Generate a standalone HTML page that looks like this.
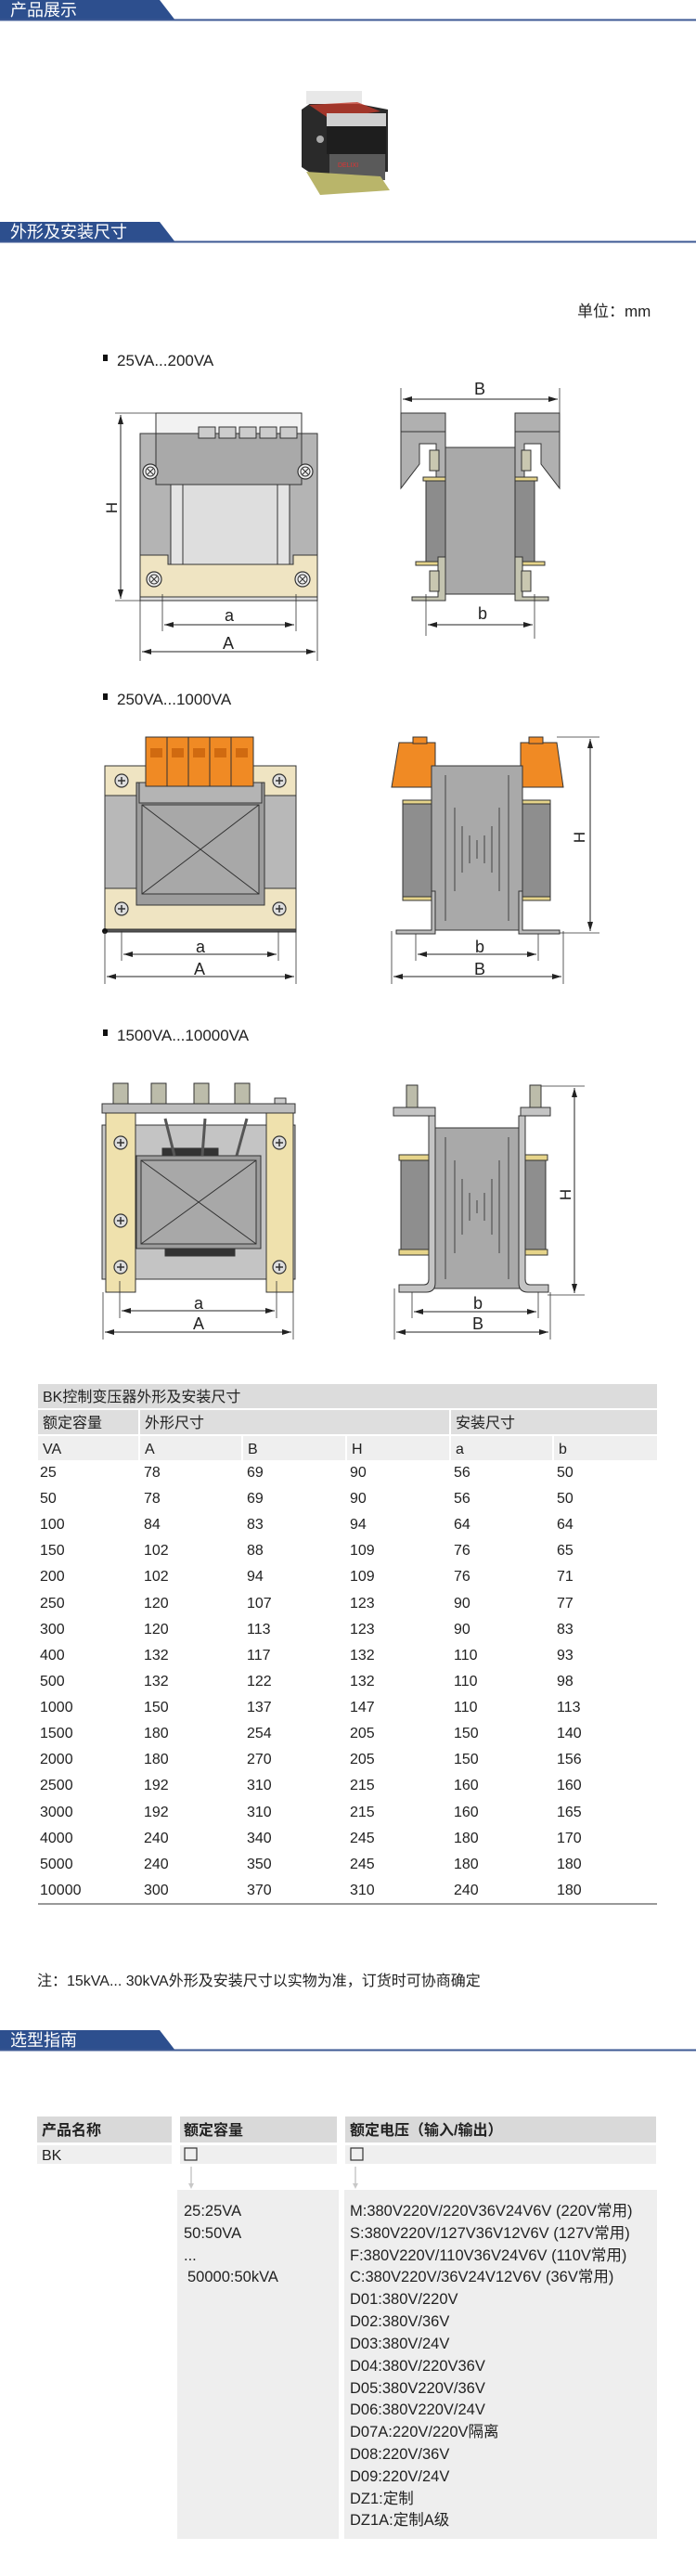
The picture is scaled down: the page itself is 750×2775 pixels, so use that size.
<!DOCTYPE html>
<html><head><meta charset="utf-8">
<style>
html,body{margin:0;padding:0;background:#fff;}
svg{display:block;}
text{font-family:"Liberation Sans","Noto Sans CJK SC",sans-serif;}
</style></head><body>
<svg width="750" height="2775" viewBox="0 0 750 2775" xmlns="http://www.w3.org/2000/svg">
<defs>
<marker id="ar" viewBox="0 0 10 6" refX="10" refY="3" markerWidth="10" markerHeight="6" orient="auto-start-reverse" markerUnits="userSpaceOnUse">
<path d="M0,0 L10,3 L0,6 z" fill="#222"/></marker>
<g id="scr"><circle r="8" fill="#eee" stroke="#333" stroke-width="1.2"/><circle r="5" fill="none" stroke="#333"/><path d="M-3,-3L3,3M-3,3L3,-3" stroke="#333"/></g>
<g id="scp"><circle r="7" fill="#ddd" stroke="#333" stroke-width="1.2"/><path d="M-4,0H4M0,-4V4" stroke="#333" stroke-width="1.5"/></g>
</defs>

<!-- Header 1 -->
<polygon points="0,0 172,0 189,22 0,22" fill="#2d4f8e"/>
<line x1="0" y1="21.5" x2="750" y2="21.5" stroke="#3d5994" stroke-width="2"/>
<text x="11" y="17" font-size="18" fill="#fff">产品展示</text>

<!-- product photo -->
<g>
<polygon points="325,118 345,104 418,118 418,185 340,190 325,180" fill="#2a2a2a"/>
<rect x="330" y="98" width="60" height="14" fill="#e8e8e8"/>
<polygon points="333,113 385,110 410,120 355,128" fill="#c0392b" opacity="0.8"/>
<rect x="352" y="122" width="64" height="14" fill="#cfcfcf"/>
<rect x="352" y="136" width="64" height="30" fill="#1e1e1e"/>
<rect x="355" y="166" width="60" height="28" fill="#5a5a5a"/>
<text x="364" y="180" font-size="7" fill="#d33">DELIXI</text>
<polygon points="330,185 410,190 420,205 345,210" fill="#b9b56a"/>
<circle cx="345" cy="150" r="4" fill="#aaa"/>
</g>

<!-- Header 2 -->
<polygon points="0,239 172,239 189,261 0,261" fill="#2d4f8e"/>
<line x1="0" y1="260.5" x2="750" y2="260.5" stroke="#3d5994" stroke-width="2"/>
<text x="11" y="256" font-size="18" fill="#fff">外形及安装尺寸</text>

<text x="622" y="341" font-size="17" fill="#222">单位：mm</text>

<g fill="#111">
<rect x="111" y="382" width="5" height="7"/>
<rect x="111" y="747" width="5" height="7"/>
<rect x="111" y="1109" width="5" height="7"/>
</g>
<text x="126" y="394" font-size="17" fill="#222">25VA...200VA</text>
<text x="126" y="759" font-size="17" fill="#222">250VA...1000VA</text>
<text x="126" y="1121" font-size="17" fill="#222">1500VA...10000VA</text>

<!-- Diagram 1 left -->
<g stroke="#333" stroke-width="1">
<rect x="151" y="467" width="191" height="180" fill="#b4b4b4"/>
<rect x="168" y="445" width="157" height="22" fill="#f2f2f2"/>
<rect x="168" y="467" width="157" height="55" fill="#a9a9a9"/>
<rect x="214" y="460" width="18" height="12" fill="#ccc"/><rect x="236" y="460" width="18" height="12" fill="#ccc"/><rect x="258" y="460" width="18" height="12" fill="#ccc"/><rect x="280" y="460" width="18" height="12" fill="#ccc"/><rect x="302" y="460" width="18" height="12" fill="#ccc"/>
<rect x="184" y="522" width="128" height="91" fill="#e4e4e4"/>
<rect x="197" y="522" width="102" height="91" fill="#dedede"/>
<path d="M151,598 H181 V608 H316 V598 H342 V643 H151 Z" fill="#efe4c2"/>
<rect x="151" y="643" width="191" height="4" fill="#ddd"/>
</g>
<use href="#scr" x="166" y="624"/><use href="#scr" x="326" y="624"/>
<use href="#scr" x="162" y="508"/><use href="#scr" x="329" y="508"/>
<g stroke="#333" stroke-width="0.8" fill="none">
<line x1="124" y1="445" x2="168" y2="445"/><line x1="124" y1="647" x2="151" y2="647"/>
<line x1="175" y1="640" x2="175" y2="680"/><line x1="319" y1="640" x2="319" y2="680"/>
<line x1="151" y1="647" x2="151" y2="712"/><line x1="342" y1="647" x2="342" y2="712"/>
</g>
<g stroke="#222" stroke-width="1" marker-start="url(#ar)" marker-end="url(#ar)">
<line x1="130" y1="447" x2="130" y2="645"/>
<line x1="177" y1="673" x2="317" y2="673"/>
<line x1="153" y1="702" x2="340" y2="702"/>
<line x1="434" y1="430" x2="601" y2="430"/>
<line x1="461" y1="673" x2="574" y2="673"/>
</g>
<text x="120" y="547" font-size="17" fill="#222" text-anchor="middle" transform="rotate(-90 120 547)" dy="6">H</text>
<text x="247" y="669" font-size="18" fill="#222" text-anchor="middle">a</text>
<text x="246" y="699" font-size="18" fill="#222" text-anchor="middle">A</text>

<!-- Diagram 1 right -->
<g stroke="#333" stroke-width="1">
<rect x="432" y="445" width="48" height="20" fill="#b0b0b0"/>
<rect x="555" y="445" width="48" height="20" fill="#b0b0b0"/>
<path d="M432,465 H480 V526 H470 V478 H452 V500 L432,526 Z" fill="#b0b0b0"/>
<path d="M603,465 H555 V526 H565 V478 H583 V500 L603,526 Z" fill="#b0b0b0"/>
<rect x="459" y="518" width="21" height="87" fill="#8c8c8c"/>
<rect x="555" y="518" width="21" height="87" fill="#8c8c8c"/>
<rect x="480" y="482" width="75" height="158" fill="#a9a9a9"/>
<rect x="456" y="514" width="24" height="4" fill="#e6d48a"/><rect x="555" y="514" width="24" height="4" fill="#e6d48a"/>
<rect x="448" y="605" width="32" height="4" fill="#e6d48a"/><rect x="555" y="605" width="32" height="4" fill="#e6d48a"/>
<path d="M444,643 H472 V600 H480 V647 H444 Z" fill="#c4c4b0"/>
<path d="M591,643 H563 V600 H555 V647 H591 Z" fill="#c4c4b0"/>
<rect x="463" y="485" width="10" height="22" fill="#c9c7b0"/><rect x="562" y="485" width="10" height="22" fill="#c9c7b0"/>
<rect x="463" y="615" width="10" height="22" fill="#c9c7b0"/><rect x="562" y="615" width="10" height="22" fill="#c9c7b0"/>
</g>
<g stroke="#333" stroke-width="0.8"><line x1="432" y1="418" x2="432" y2="445"/><line x1="603" y1="418" x2="603" y2="445"/><line x1="459" y1="640" x2="459" y2="685"/><line x1="576" y1="640" x2="576" y2="688"/></g>
<text x="517" y="425" font-size="18" fill="#222" text-anchor="middle">B</text>
<text x="520" y="667" font-size="18" fill="#222" text-anchor="middle">b</text>

<!-- Diagram 2 left -->
<g stroke="#333" stroke-width="1">
<rect x="113" y="825" width="206" height="178" fill="#efe4c2"/>
<rect x="113" y="857" width="206" height="100" fill="#b8b8b8"/>
<rect x="147" y="843" width="138" height="132" fill="#9c9c9c"/>
<rect x="150" y="843" width="132" height="22" fill="#b4b4b4"/>
<rect x="153" y="867" width="126" height="96" fill="#a8a8a8"/>
<path d="M153,867 L279,963 M279,867 L153,963" fill="none"/>
<rect x="157" y="794" width="23" height="53" fill="#f08a24"/><rect x="180" y="794" width="23" height="53" fill="#f08a24"/><rect x="203" y="794" width="23" height="53" fill="#f08a24"/><rect x="226" y="794" width="23" height="53" fill="#f08a24"/><rect x="249" y="794" width="24" height="53" fill="#f08a24"/>
<rect x="113" y="1001" width="206" height="3" fill="#555"/>
</g>
<g fill="#d06a10"><rect x="162" y="806" width="13" height="10"/><rect x="185" y="806" width="13" height="10"/><rect x="208" y="806" width="13" height="10"/><rect x="231" y="806" width="13" height="10"/><rect x="254" y="806" width="13" height="10"/></g>
<use href="#scp" x="131" y="841"/><use href="#scp" x="301" y="841"/><use href="#scp" x="131" y="979"/><use href="#scp" x="301" y="979"/>
<circle cx="113" cy="1003" r="3" fill="#111"/>
<g stroke="#333" stroke-width="0.8"><line x1="113" y1="1003" x2="113" y2="1060"/><line x1="319" y1="1003" x2="319" y2="1060"/><line x1="131" y1="1003" x2="131" y2="1035"/><line x1="300" y1="1003" x2="300" y2="1035"/>
<line x1="422" y1="1003" x2="422" y2="1060"/><line x1="607" y1="1003" x2="607" y2="1060"/><line x1="448" y1="1003" x2="448" y2="1035"/><line x1="580" y1="1003" x2="580" y2="1035"/>
<line x1="600" y1="794" x2="646" y2="794"/><line x1="603" y1="1005" x2="646" y2="1005"/></g>
<g stroke="#222" stroke-width="1" marker-start="url(#ar)" marker-end="url(#ar)">
<line x1="133" y1="1028" x2="298" y2="1028"/>
<line x1="115" y1="1052" x2="317" y2="1052"/>
<line x1="450" y1="1028" x2="578" y2="1028"/>
<line x1="424" y1="1052" x2="605" y2="1052"/>
<line x1="636" y1="796" x2="636" y2="1003"/>
</g>
<text x="216" y="1026" font-size="18" fill="#222" text-anchor="middle">a</text>
<text x="215" y="1050" font-size="18" fill="#222" text-anchor="middle">A</text>
<text x="517" y="1026" font-size="18" fill="#222" text-anchor="middle">b</text>
<text x="517" y="1050" font-size="18" fill="#222" text-anchor="middle">B</text>
<text x="624" y="902" font-size="17" fill="#222" text-anchor="middle" transform="rotate(-90 624 902)" dy="6">H</text>

<!-- Diagram 2 right -->
<g stroke="#333" stroke-width="1">
<polygon points="430,800 469,800 469,848 422,848" fill="#f08a24"/>
<polygon points="561,800 600,800 607,848 561,848" fill="#f08a24"/>
<rect x="445" y="794" width="15" height="7" fill="#f08a24"/><rect x="570" y="794" width="15" height="7" fill="#f08a24"/>
<rect x="434" y="865" width="31" height="102" fill="#8e8e8e"/>
<rect x="563" y="865" width="30" height="102" fill="#8e8e8e"/>
<rect x="434" y="862" width="31" height="4" fill="#e6d48a"/><rect x="563" y="862" width="30" height="4" fill="#e6d48a"/>
<rect x="434" y="966" width="31" height="4" fill="#e6d48a"/><rect x="563" y="966" width="30" height="4" fill="#e6d48a"/>
<rect x="465" y="825" width="98" height="177" fill="#a9a9a9"/>
<path d="M427,1002 H465 V960 H469 V1006 H427 Z" fill="#bbb"/>
<path d="M603,1002 H563 V960 H559 V1006 H603 Z" fill="#bbb"/>
</g>
<g stroke="#444" stroke-width="1">
<line x1="480" y1="835" x2="480" y2="992"/><line x1="548" y1="835" x2="548" y2="992"/>
<line x1="490" y1="870" x2="490" y2="960"/><line x1="538" y1="870" x2="538" y2="960"/>
<line x1="498" y1="890" x2="498" y2="940"/><line x1="530" y1="890" x2="530" y2="940"/>
<line x1="506" y1="900" x2="506" y2="930"/><line x1="522" y1="900" x2="522" y2="930"/><line x1="514" y1="905" x2="514" y2="925"/>
</g>

<!-- Diagram 3 left -->
<g stroke="#333" stroke-width="1">
<rect x="110" y="1212" width="208" height="166" fill="#c8c8c8"/>
<rect x="146" y="1212" width="141" height="166" fill="#c4c4c4"/>
<rect x="110" y="1189" width="208" height="10" fill="#bdbdbd"/>
<rect x="114" y="1199" width="32" height="193" fill="#efe1ad"/>
<rect x="287" y="1199" width="29" height="193" fill="#efe1ad"/>
<rect x="175" y="1237" width="60" height="8" fill="#333"/>
<rect x="147" y="1245" width="134" height="100" fill="#9c9c9c"/>
<rect x="152" y="1250" width="124" height="90" fill="#a8a8a8"/>
<path d="M152,1250 L276,1340 M276,1250 L152,1340" fill="none"/>
<rect x="178" y="1345" width="75" height="8" fill="#333"/>
</g>
<g stroke="#333" stroke-width="1" fill="#bcbcaa">
<rect x="122" y="1167" width="16" height="22"/><rect x="163" y="1167" width="16" height="22"/><rect x="209" y="1167" width="16" height="22"/><rect x="253" y="1167" width="16" height="22"/>
<rect x="296" y="1183" width="12" height="6" fill="#ccc"/>
</g>
<g stroke="#555" stroke-width="3" fill="none"><path d="M178,1205 L188,1245"/><path d="M221,1205 L218,1245"/><path d="M266,1205 L255,1245"/></g>
<use href="#scp" x="130" y="1231"/><use href="#scp" x="130" y="1315"/><use href="#scp" x="130" y="1365"/>
<use href="#scp" x="301" y="1231"/><use href="#scp" x="301" y="1365"/>
<g stroke="#333" stroke-width="0.8"><line x1="111" y1="1392" x2="111" y2="1443"/><line x1="316" y1="1392" x2="316" y2="1443"/><line x1="129" y1="1380" x2="129" y2="1420"/><line x1="298" y1="1380" x2="298" y2="1420"/>
<line x1="425" y1="1388" x2="425" y2="1443"/><line x1="593" y1="1392" x2="593" y2="1443"/><line x1="444" y1="1385" x2="444" y2="1420"/><line x1="580" y1="1385" x2="580" y2="1420"/>
<line x1="575" y1="1170" x2="630" y2="1170"/><line x1="590" y1="1395" x2="630" y2="1395"/></g>
<g stroke="#222" stroke-width="1" marker-start="url(#ar)" marker-end="url(#ar)">
<line x1="131" y1="1412" x2="296" y2="1412"/>
<line x1="113" y1="1435" x2="314" y2="1435"/>
<line x1="446" y1="1413" x2="578" y2="1413"/>
<line x1="427" y1="1435" x2="591" y2="1435"/>
<line x1="619" y1="1172" x2="619" y2="1393"/>
</g>
<text x="214" y="1410" font-size="18" fill="#222" text-anchor="middle">a</text>
<text x="214" y="1432" font-size="18" fill="#222" text-anchor="middle">A</text>
<text x="515" y="1410" font-size="18" fill="#222" text-anchor="middle">b</text>
<text x="515" y="1432" font-size="18" fill="#222" text-anchor="middle">B</text>
<text x="609" y="1287" font-size="17" fill="#222" text-anchor="middle" transform="rotate(-90 609 1287)" dy="6">H</text>

<!-- Diagram 3 right -->
<g stroke="#333" stroke-width="1">
<rect x="432" y="1248" width="33" height="102" fill="#8e8e8e"/>
<rect x="563" y="1248" width="25" height="102" fill="#8e8e8e"/>
<rect x="430" y="1244" width="37" height="6" fill="#e6d48a"/><rect x="563" y="1244" width="27" height="6" fill="#e6d48a"/>
<rect x="430" y="1346" width="37" height="6" fill="#e6d48a"/><rect x="563" y="1346" width="27" height="6" fill="#e6d48a"/>
<rect x="465" y="1215" width="98" height="173" fill="#a9a9a9"/>
<rect x="424" y="1193" width="45" height="9" fill="#c4c4c4"/>
<rect x="561" y="1193" width="32" height="9" fill="#c4c4c4"/>
<path d="M462,1202 H469 V1382 Q469,1392 459,1392 H430 V1384 H457 Q462,1384 462,1378 Z" fill="#c4c4c4"/>
<path d="M566,1202 H559 V1382 Q559,1392 569,1392 H591 V1384 H571 Q566,1384 566,1378 Z" fill="#c4c4c4"/>
<rect x="438" y="1169" width="12" height="24" fill="#bcbcaa"/><rect x="571" y="1169" width="12" height="24" fill="#bcbcaa"/>
</g>
<g stroke="#444" stroke-width="1">
<line x1="480" y1="1225" x2="480" y2="1378"/><line x1="548" y1="1225" x2="548" y2="1378"/>
<line x1="490" y1="1250" x2="490" y2="1350"/><line x1="538" y1="1250" x2="538" y2="1350"/>
<line x1="498" y1="1270" x2="498" y2="1330"/><line x1="530" y1="1270" x2="530" y2="1330"/>
<line x1="506" y1="1285" x2="506" y2="1315"/><line x1="522" y1="1285" x2="522" y2="1315"/><line x1="514" y1="1293" x2="514" y2="1307"/>
</g>

<!-- Table -->
<rect x="41" y="1491" width="667" height="26" fill="#dcdcdc"/>
<text x="46" y="1510" font-size="16" fill="#222">BK控制变压器外形及安装尺寸</text>
<g fill="#dedede">
<rect x="41" y="1519" width="108" height="26"/><rect x="151" y="1519" width="333" height="26"/><rect x="486" y="1519" width="222" height="26"/>
</g>
<g fill="#efefef">
<rect x="41" y="1547" width="108" height="26"/><rect x="151" y="1547" width="109" height="26"/><rect x="262" y="1547" width="110" height="26"/><rect x="374" y="1547" width="110" height="26"/><rect x="486" y="1547" width="109" height="26"/><rect x="597" y="1547" width="111" height="26"/>
</g>
<g font-size="16" fill="#222">
<text x="46" y="1538">额定容量</text><text x="156" y="1538">外形尺寸</text><text x="491" y="1538">安装尺寸</text>
<text x="46" y="1566">VA</text><text x="156" y="1566">A</text><text x="267" y="1566">B</text><text x="379" y="1566">H</text><text x="491" y="1566">a</text><text x="602" y="1566">b</text>
</g>
<g font-size="16" fill="#222">
<g transform="translate(0,1591)"><text x="43">25</text><text x="155">78</text><text x="266">69</text><text x="377">90</text><text x="489">56</text><text x="600">50</text></g>
<g transform="translate(0,1619)"><text x="43">50</text><text x="155">78</text><text x="266">69</text><text x="377">90</text><text x="489">56</text><text x="600">50</text></g>
<g transform="translate(0,1647)"><text x="43">100</text><text x="155">84</text><text x="266">83</text><text x="377">94</text><text x="489">64</text><text x="600">64</text></g>
<g transform="translate(0,1675)"><text x="43">150</text><text x="155">102</text><text x="266">88</text><text x="377">109</text><text x="489">76</text><text x="600">65</text></g>
<g transform="translate(0,1703)"><text x="43">200</text><text x="155">102</text><text x="266">94</text><text x="377">109</text><text x="489">76</text><text x="600">71</text></g>
<g transform="translate(0,1732)"><text x="43">250</text><text x="155">120</text><text x="266">107</text><text x="377">123</text><text x="489">90</text><text x="600">77</text></g>
<g transform="translate(0,1760)"><text x="43">300</text><text x="155">120</text><text x="266">113</text><text x="377">123</text><text x="489">90</text><text x="600">83</text></g>
<g transform="translate(0,1788)"><text x="43">400</text><text x="155">132</text><text x="266">117</text><text x="377">132</text><text x="489">110</text><text x="600">93</text></g>
<g transform="translate(0,1816)"><text x="43">500</text><text x="155">132</text><text x="266">122</text><text x="377">132</text><text x="489">110</text><text x="600">98</text></g>
<g transform="translate(0,1844)"><text x="43">1000</text><text x="155">150</text><text x="266">137</text><text x="377">147</text><text x="489">110</text><text x="600">113</text></g>
<g transform="translate(0,1872)"><text x="43">1500</text><text x="155">180</text><text x="266">254</text><text x="377">205</text><text x="489">150</text><text x="600">140</text></g>
<g transform="translate(0,1900)"><text x="43">2000</text><text x="155">180</text><text x="266">270</text><text x="377">205</text><text x="489">150</text><text x="600">156</text></g>
<g transform="translate(0,1928)"><text x="43">2500</text><text x="155">192</text><text x="266">310</text><text x="377">215</text><text x="489">160</text><text x="600">160</text></g>
<g transform="translate(0,1957)"><text x="43">3000</text><text x="155">192</text><text x="266">310</text><text x="377">215</text><text x="489">160</text><text x="600">165</text></g>
<g transform="translate(0,1985)"><text x="43">4000</text><text x="155">240</text><text x="266">340</text><text x="377">245</text><text x="489">180</text><text x="600">170</text></g>
<g transform="translate(0,2013)"><text x="43">5000</text><text x="155">240</text><text x="266">350</text><text x="377">245</text><text x="489">180</text><text x="600">180</text></g>
<g transform="translate(0,2041)"><text x="43">10000</text><text x="155">300</text><text x="266">370</text><text x="377">310</text><text x="489">240</text><text x="600">180</text></g>
</g>
<line x1="41" y1="2051" x2="708" y2="2051" stroke="#999" stroke-width="2"/>

<text x="40" y="2139" font-size="16" fill="#222">注：15kVA... 30kVA外形及安装尺寸以实物为准，订货时可协商确定</text>

<!-- Header 3 -->
<polygon points="0,2187 172,2187 189,2209 0,2209" fill="#2d4f8e"/>
<line x1="0" y1="2208.5" x2="750" y2="2208.5" stroke="#3d5994" stroke-width="2"/>
<text x="11" y="2204" font-size="18" fill="#fff">选型指南</text>

<!-- Selection guide -->
<g fill="#d9d9d9"><rect x="40" y="2280" width="145" height="28"/><rect x="194" y="2280" width="169" height="28"/><rect x="372" y="2280" width="335" height="28"/></g>
<g fill="#efefef"><rect x="40" y="2311" width="145" height="20"/><rect x="194" y="2311" width="169" height="20"/><rect x="372" y="2311" width="335" height="20"/></g>
<g font-size="16" fill="#222" font-weight="bold">
<text x="45" y="2300">产品名称</text><text x="198" y="2300">额定容量</text><text x="377" y="2300">额定电压（输入/输出）</text>
</g>
<text x="45" y="2327" font-size="16" fill="#222">BK</text>
<rect x="199" y="2314" width="13" height="13" fill="none" stroke="#333" stroke-width="1.2"/>
<rect x="378" y="2314" width="13" height="13" fill="none" stroke="#333" stroke-width="1.2"/>
<g stroke="#c8c8c8" stroke-width="1.5"><line x1="206" y1="2334" x2="206" y2="2354"/><line x1="383" y1="2334" x2="383" y2="2354"/></g>
<g fill="#c8c8c8"><path d="M203,2352 L209,2352 L206,2358 z"/><path d="M380,2352 L386,2352 L383,2358 z"/></g>
<rect x="191" y="2359" width="174" height="376" fill="#eeeeee"/>
<rect x="371" y="2359" width="337" height="376" fill="#eeeeee"/>
<g font-size="16.5" fill="#222">
<text x="198" y="2387">25:25VA</text>
<text x="198" y="2411">50:50VA</text>
<text x="198" y="2435">...</text>
<text x="202" y="2458">50000:50kVA</text>
<text x="377" y="2387">M:380V220V/220V36V24V6V (220V常用)</text>
<text x="377" y="2411">S:380V220V/127V36V12V6V (127V常用)</text>
<text x="377" y="2435">F:380V220V/110V36V24V6V (110V常用)</text>
<text x="377" y="2458">C:380V220V/36V24V12V6V (36V常用)</text>
<text x="377" y="2482">D01:380V/220V</text>
<text x="377" y="2506">D02:380V/36V</text>
<text x="377" y="2530">D03:380V/24V</text>
<text x="377" y="2554">D04:380V/220V36V</text>
<text x="377" y="2578">D05:380V220V/36V</text>
<text x="377" y="2601">D06:380V220V/24V</text>
<text x="377" y="2625">D07A:220V/220V隔离</text>
<text x="377" y="2649">D08:220V/36V</text>
<text x="377" y="2673">D09:220V/24V</text>
<text x="377" y="2697">DZ1:定制</text>
<text x="377" y="2720">DZ1A:定制A级</text>
</g>
</svg>
</body></html>
